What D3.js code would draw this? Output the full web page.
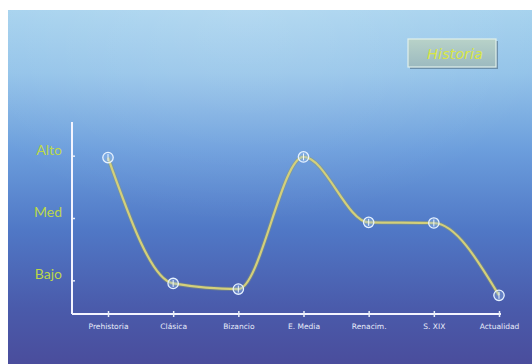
<!DOCTYPE html>
<html>
<head>
<meta charset="utf-8">
<script src="https://cdn.jsdelivr.net/npm/d3@7"></script>
<style>
  html, body { margin: 0; padding: 0; background: #ffffff; }
  svg { display: block; }
</style>
</head>
<body>
<svg id="chart" width="532" height="364"></svg>
<script>
// Periods along the horizontal axis
const periods = ["Prehistoria", "Clásica", "Bizancio", "E. Media", "Renacim.", "S. XIX", "Actualidad"];
// Level reached in each period (1 = Bajo, 2 = Med, 3 = Alto)
const levels = [2.97, 0.95, 0.86, 2.98, 1.93, 1.92, 0.76];
// Vertical tick values and their labels
const levelTicks = [1, 2, 3];
const levelLabels = ["Bajo", "Med", "Alto"];
const chartTitle = "Historia";

const svg = d3.select("#chart");
const defs = svg.append("defs");

// Background: light sky blue fading to deep violet blue
const bg = defs.append("linearGradient")
  .attr("id", "bg").attr("x1", 0).attr("y1", 0).attr("x2", 0).attr("y2", 1);
[["0%", "#a6d2ee"], ["18%", "#93c3e9"], ["40%", "#6b9ddc"], ["62%", "#5078c6"], ["84%", "#4a5bab"], ["100%", "#4a4d9c"]]
  .forEach(([o, c]) => bg.append("stop").attr("offset", o).attr("stop-color", c));

const sheen = defs.append("radialGradient")
  .attr("id", "sheen").attr("cx", 0.45).attr("cy", 0.0).attr("r", 0.6);
sheen.append("stop").attr("offset", "0%").attr("stop-color", "#ffffff").attr("stop-opacity", 0.16);
sheen.append("stop").attr("offset", "100%").attr("stop-color", "#ffffff").attr("stop-opacity", 0);

const boxGrad = defs.append("linearGradient")
  .attr("id", "box").attr("x1", 0).attr("y1", 0).attr("x2", 0).attr("y2", 1);
boxGrad.append("stop").attr("offset", "0%").attr("stop-color", "#b8d2c8");
boxGrad.append("stop").attr("offset", "100%").attr("stop-color", "#9cbac0");

const glow = defs.append("filter").attr("id", "glow")
  .attr("x", "-10%").attr("y", "-10%").attr("width", "120%").attr("height", "120%");
glow.append("feGaussianBlur").attr("stdDeviation", 0.6);

svg.append("rect").attr("x", 8).attr("y", 10).attr("width", 524).attr("height", 354).attr("fill", "url(#bg)");
svg.append("rect").attr("x", 8).attr("y", 10).attr("width", 524).attr("height", 354).attr("fill", "url(#sheen)");

// Scales
const x = d3.scalePoint().domain(periods).range([108, 499]);
const y = d3.scaleLinear().domain([0.46, 3.54]).range([314, 122]);
const axisLeftX = 72;

// Title box
const tb = svg.append("g");
tb.append("rect").attr("x", 410).attr("y", 41).attr("width", 88).attr("height", 28)
  .attr("fill", "#4e6a80").attr("opacity", 0.6);
tb.append("rect").attr("x", 408).attr("y", 39).attr("width", 88).attr("height", 28)
  .attr("fill", "url(#box)").attr("stroke", "#e2f0ea").attr("stroke-width", 1.2);
tb.append("text").attr("x", 455).attr("y", 59).attr("text-anchor", "middle")
  .attr("font-family", "'DejaVu Sans', sans-serif").attr("font-style", "italic")
  .attr("font-size", 14.5).attr("fill", "#d8e646").text(chartTitle);

// Vertical axis
const yAxis = svg.append("g").attr("transform", `translate(${axisLeftX},0)`)
  .call(d3.axisLeft(y).tickValues(levelTicks).tickFormat((d, i) => levelLabels[i]).tickSize(-3).tickSizeOuter(0).tickPadding(10));
yAxis.select(".domain").remove();
yAxis.append("line").attr("x1", 0).attr("x2", 0).attr("y1", y.range()[1]).attr("y2", y.range()[0])
  .attr("stroke", "#f4f4ff").attr("stroke-width", 2);
yAxis.selectAll(".tick line").attr("stroke", "#e8eef8").attr("stroke-width", 1.5);
yAxis.selectAll(".tick text")
  .attr("font-family", "Lato, 'DejaVu Sans', sans-serif").attr("font-size", 14)
  .attr("fill", "#bcd84a").attr("dy", "-0.1em");

// Horizontal axis
const xAxis = svg.append("g").attr("transform", "translate(0,314)")
  .call(d3.axisBottom(x).tickSize(4).tickSizeOuter(0).tickPadding(6));
xAxis.select(".domain").remove();
xAxis.insert("line", ":first-child").attr("x1", axisLeftX).attr("x2", 501).attr("y1", 0).attr("y2", 0)
  .attr("stroke", "#f4f4ff").attr("stroke-width", 2);
xAxis.selectAll(".tick line").attr("y1", -3).attr("y2", 3).attr("stroke", "#e8eef8").attr("stroke-width", 1.5);
xAxis.selectAll(".tick text")
  .attr("font-family", "'DejaVu Sans', sans-serif").attr("font-size", 7.5)
  .attr("fill", "#e8ecfa");

// Smooth curve through the levels
const pts = periods.map((p, i) => [x(p), y(levels[i])]);
const line = d3.line().curve(d3.curveMonotoneX);
svg.append("path").attr("d", line(pts)).attr("fill", "none")
  .attr("stroke", "#8e9a6a").attr("stroke-width", 4).attr("opacity", 0.45).attr("filter", "url(#glow)");
svg.append("path").attr("d", line(pts)).attr("fill", "none")
  .attr("stroke", "#d4d07a").attr("stroke-width", 2.2);

// Point markers
const mk = svg.append("g").selectAll("g").data(pts).join("g")
  .attr("transform", d => `translate(${d[0]},${d[1]})`);
mk.append("circle").attr("r", 5.2).attr("fill", "#9cc4f0").attr("fill-opacity", 0.35)
  .attr("stroke", "#e6f2ff").attr("stroke-width", 1.3);
mk.append("line").attr("x1", 0).attr("x2", 0).attr("y1", -3.5).attr("y2", 3.5)
  .attr("stroke", "#eef6ff").attr("stroke-width", 1);
</script>
</body>
</html>
